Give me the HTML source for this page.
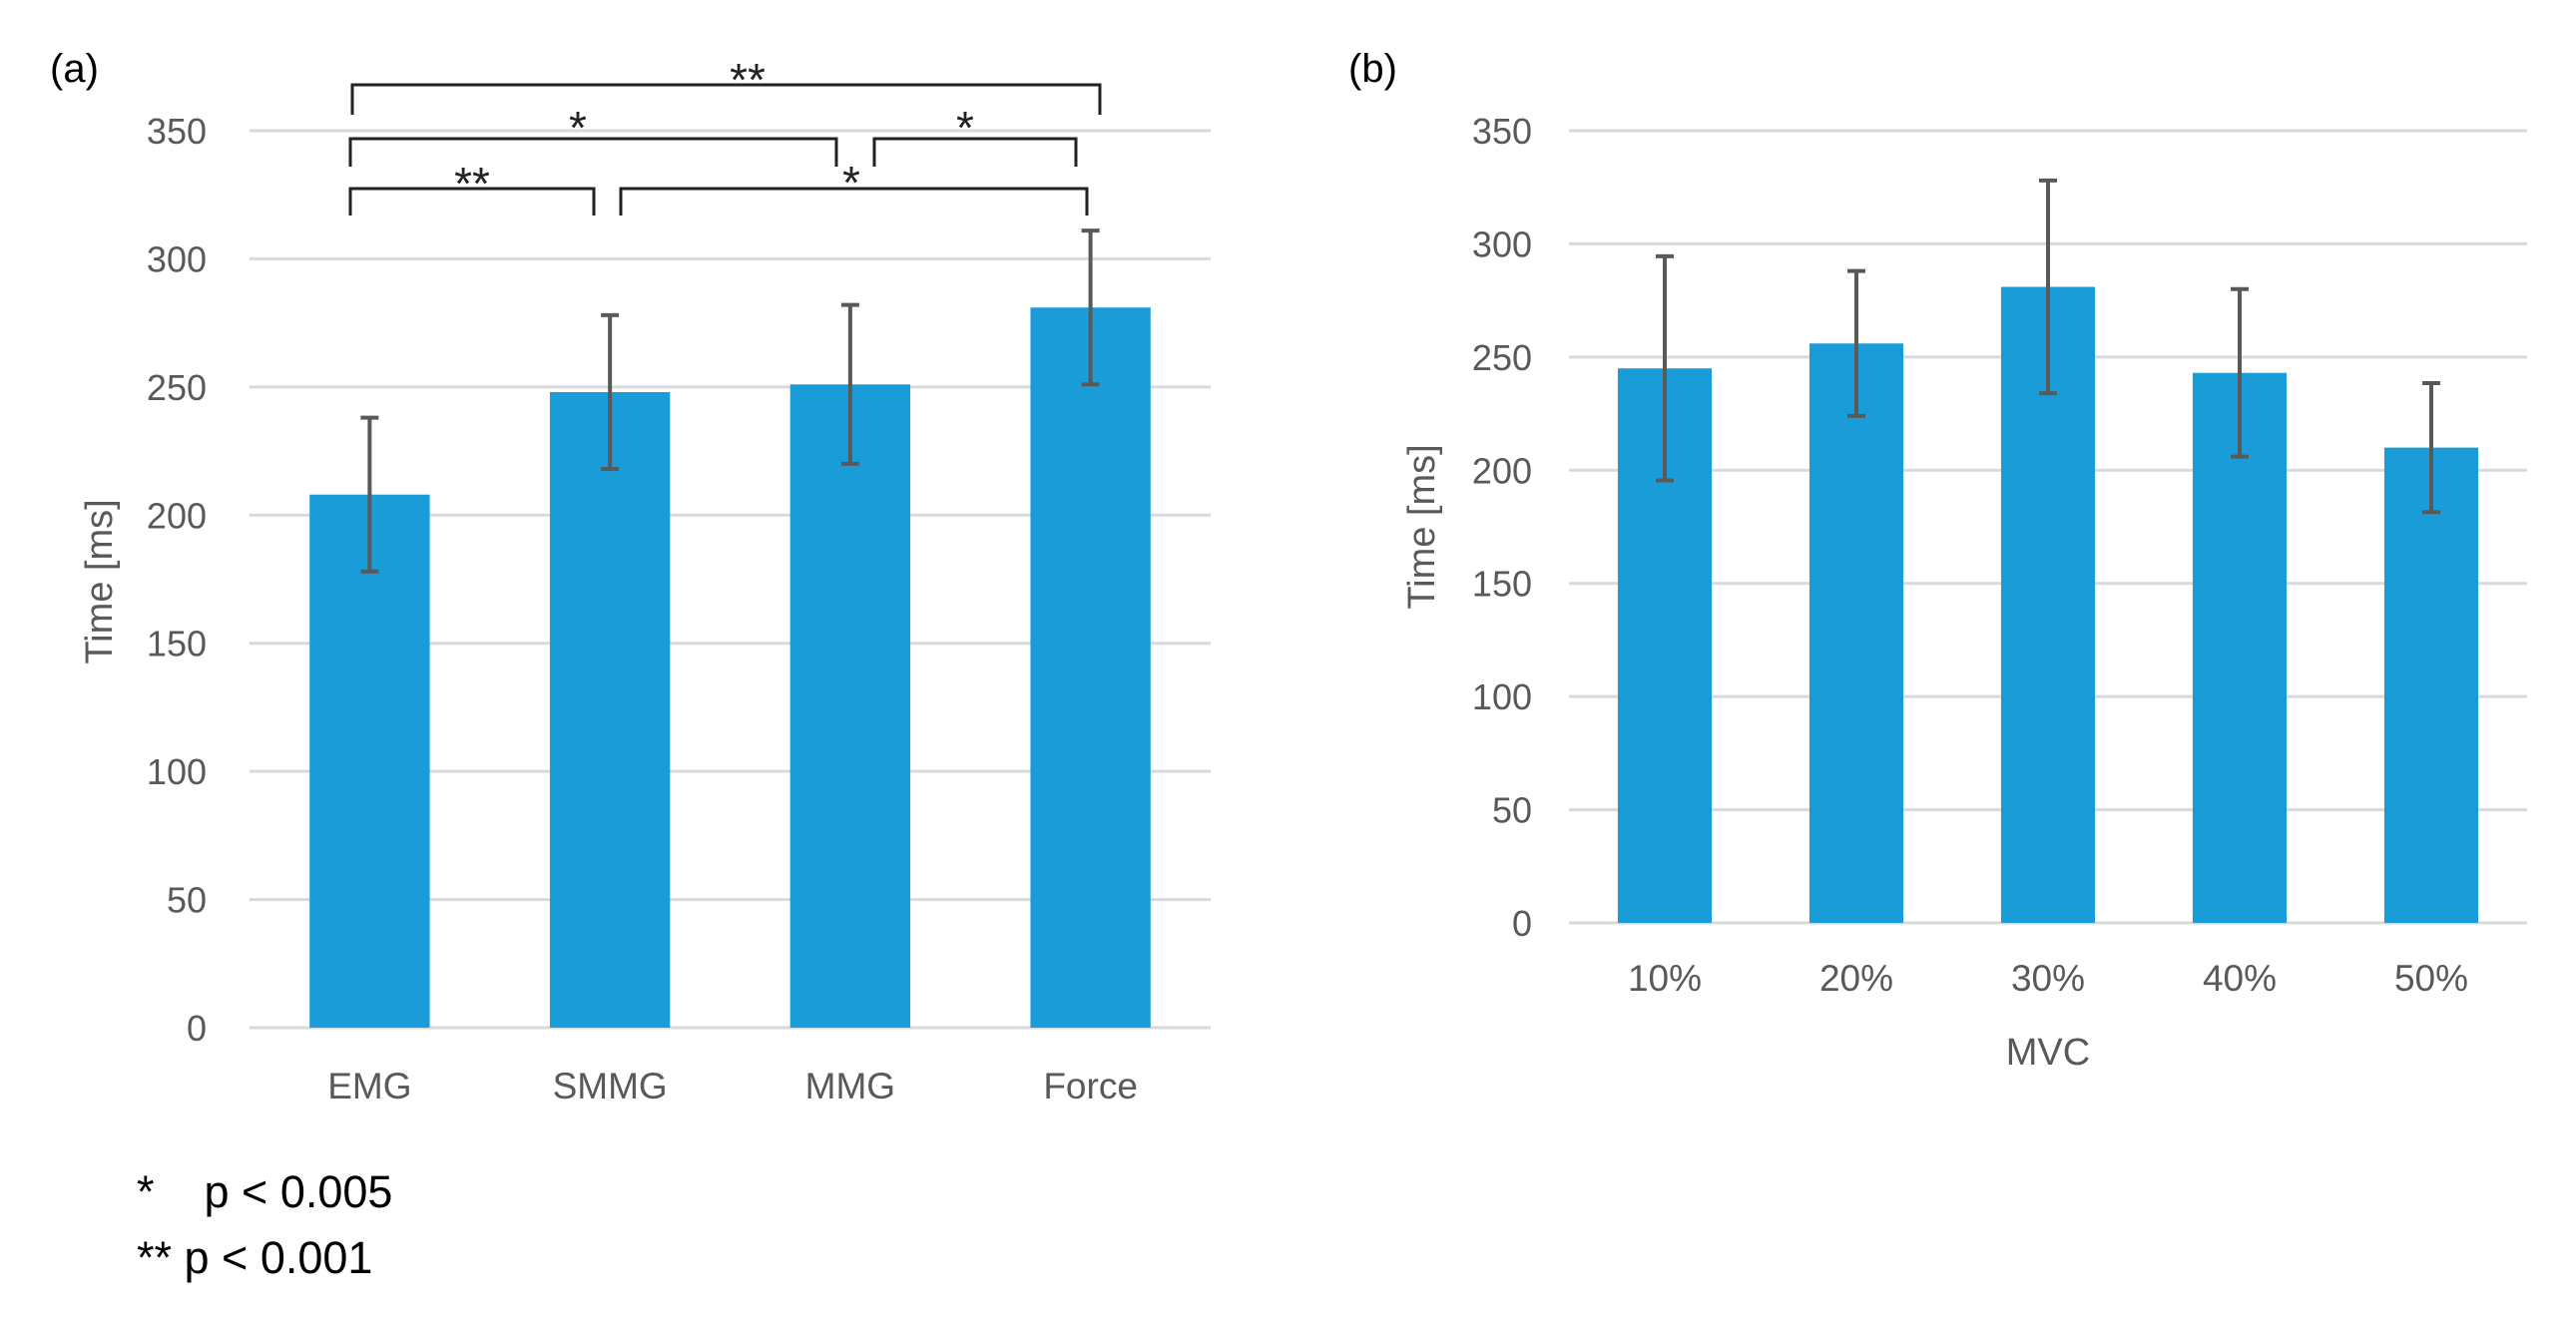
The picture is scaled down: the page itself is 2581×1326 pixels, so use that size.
<!DOCTYPE html>
<html><head><meta charset="utf-8"><style>
html,body{margin:0;padding:0;background:#fff;}
svg{display:block;font-family:"Liberation Sans",sans-serif;}
</style></head><body>
<svg id="svg" width="2581" height="1326" viewBox="0 0 2581 1326" xmlns="http://www.w3.org/2000/svg">
<text x="50" y="82" font-size="40" fill="#000">(a)</text>
<text x="1351" y="82" font-size="40" fill="#000">(b)</text>
<text transform="translate(112,583) rotate(-90)" text-anchor="middle" font-size="38" fill="#595959">Time [ms]</text>
<text transform="translate(1437,528) rotate(-90)" text-anchor="middle" font-size="38" fill="#595959">Time [ms]</text>
<text x="2052" y="1067" text-anchor="middle" font-size="38" fill="#595959">MVC</text>
<text x="137" y="1210" font-size="45" fill="#000">*&#160;&#160;&#160;&#160;p &lt; 0.005</text>
<text x="137" y="1276" font-size="45" fill="#000">** p &lt; 0.001</text>
<g id="brackets" stroke="#222" stroke-width="3" fill="none"></g>
</svg>
<script>
const catsA = ["EMG","SMMG","MMG","Force"];
const valsA = [208,248,251,281];
const errA = [30,30,31,30];
const catsB = ["10%","20%","30%","40%","50%"];
const valsB = [245,256,281,243,210];
const errB = [49.5,32,47,37,28.5];
const ticks = [0,50,100,150,200,250,300,350];
const NS="http://www.w3.org/2000/svg";
const svg=document.getElementById('svg');
function mk(tag,attrs,parent){const e=document.createElementNS(NS,tag);for(const k in attrs)e.setAttribute(k,attrs[k]);(parent||svg).appendChild(e);return e;}
function chart(cfg,cats,vals,errs,id){
  const g=mk('g',{});
  
  
  const y=v=>cfg.y0-(cfg.y0-cfg.y350)*v/350;
  const band=(cfg.x1-cfg.x0)/cats.length;
  const xc=i=>cfg.x0+band*(i+0.5);
  ticks.forEach(t=>{
    const l=mk('line',{x1:cfg.x0,x2:cfg.x1,y1:y(t),y2:y(t),stroke:'#d9d9d9','stroke-width':3},g);
    
    
    const tx=mk('text',{x:cfg.lx,y:y(t)+13,'text-anchor':'end','font-size':36,fill:'#595959'},g);
    tx.textContent=t;
    
    
  });
  cats.forEach((c,i)=>{
    const w=band*cfg.bw;
    const r=mk('rect',{x:xc(i)-w/2,y:y(vals[i]),width:w,height:y(0)-y(vals[i]),fill:'#1a9cd8'},g);
    
    
    const eb=mk('path',{d:`M${xc(i)},${y(vals[i]+errs[i])}V${y(vals[i]-errs[i])}M${xc(i)-9},${y(vals[i]+errs[i])}h18M${xc(i)-9},${y(vals[i]-errs[i])}h18`,stroke:'#595959','stroke-width':4,fill:'none'},g);
    
    
    const tx=mk('text',{x:xc(i),y:cfg.ly,'text-anchor':'middle','font-size':37,fill:'#595959'},g);
    tx.textContent=c;
    
    
  });
}
chart({x0:250,x1:1213,y0:1030,y350:131,lx:207,ly:1101,bw:0.5},catsA,valsA,errA,'panel-a');
chart({x0:1572,x1:2532,y0:925,y350:131,lx:1535,ly:993,bw:0.49},catsB,valsB,errB,'panel-b');
const bg=document.getElementById('brackets');
const br=[
 [353,1102,85,115,115,'**',749,82],
 [351,838,139,167,167,'*',579,130],
 [876,1078,139,167,167,'*',967,130],
 [351,595,189,216,216,'**',473,186],
 [622,1089,189,216,216,'*',853,185]
];
br.forEach(b=>{
  const p=mk('path',{d:`M${b[0]},${b[3]}V${b[2]}H${b[1]}V${b[4]}`},bg);
  
  
  const t=mk('text',{x:b[6],y:b[7]+14,'text-anchor':'middle','font-size':46,fill:'#222',stroke:'none'},bg);
  t.textContent=b[5];
  
  
});
</script>
</body></html>
